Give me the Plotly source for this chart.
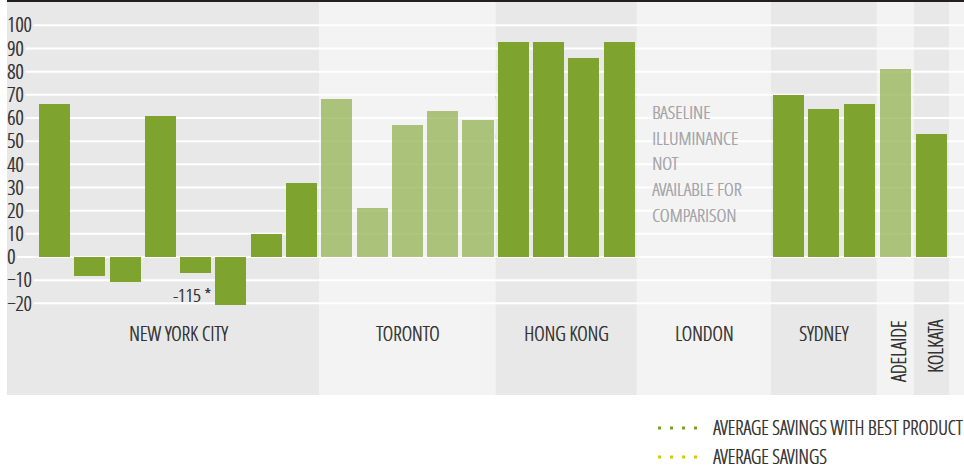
import plotly.graph_objects as go

# ---------------- data ----------------
cities = ["NEW YORK CITY", "TORONTO", "HONG KONG", "LONDON", "SYDNEY", "ADELAIDE", "KOLKATA"]
nyc_savings = [66, -8, -11, 61, -7, -115, 10, 32]
toronto_savings = [68, 21, 57, 63, 59]
hong_kong_savings = [93, 93, 86, 93]
london_savings = []
sydney_savings = [70, 64, 66]
adelaide_savings = [81]
kolkata_savings = [53]
avg_savings_best_product = 69
avg_savings = 52
y_tick_values = list(range(-20, 101, 10))
london_note = ["BASELINE", "ILLUMINANCE", "NOT", "AVAILABLE FOR", "COMPARISON"]
legend_labels = ["AVERAGE SAVINGS WITH BEST PRODUCT", "AVERAGE SAVINGS"]

groups = [nyc_savings, toronto_savings, hong_kong_savings, london_savings,
          sydney_savings, adelaide_savings, kolkata_savings]

# ---------------- layout / style ----------------
W, H = 964, 470
ML, MB = 7, 75
PW, PH = W - ML, H - MB
band_widths = [8, 5, 4, 3.8, 3, 1.05, 1]
shade = ["dark", "light", "dark", None, "dark", "light", "dark"]
DARK = "#7ea32f"
LIGHT_OPACITY = 0.62
BAND_DARK, BAND_LIGHT = "#e8e8e8", "#f3f3f3"
GREEN_DOT, YELLOW_DOT = "#78a22c", "#d8c800"
FONT = "Open Sans Condensed Light, Open Sans, sans-serif"
TXT = "#333333"
NOTE = "#a3a3a8"
SH = "0.45px 0 0 "
CLIP = -20.6
XMIN, XMAX = -1.345, 25.77
YMIN, YMAX = -59.56, 110.92
UNIT_PX = PW / (XMAX - XMIN)


def fnt(size, color=TXT):
    return dict(family=FONT, size=size, color=color, shadow=SH + color)


xs, ys, cols, ops, bands = [], [], [], [], []
edge = -0.5
for g, (vals, w) in enumerate(zip(groups, band_widths)):
    start = edge
    end = edge + w
    bands.append((start, end))
    n = len(vals)
    for i, v in enumerate(vals):
        xs.append(start + (w - n) / 2 + 0.5 + i)
        ys.append(max(v, CLIP))
        cols.append(DARK)
        ops.append(1.0 if shade[g] == "dark" else LIGHT_OPACITY)
    edge = end

shapes = []
for i, (a, b) in enumerate(bands):
    x0 = XMIN if i == 0 else a
    shapes.append(dict(type="rect", xref="x", yref="y", x0=x0, x1=b, y0=YMIN, y1=YMAX,
                       fillcolor=BAND_DARK if i % 2 == 0 else BAND_LIGHT,
                       line=dict(width=0), layer="below"))
shapes.append(dict(type="rect", xref="x", yref="y", x0=bands[-1][1], x1=XMAX, y0=YMIN, y1=YMAX,
                   fillcolor=BAND_LIGHT if len(bands) % 2 == 1 else BAND_DARK,
                   line=dict(width=0), layer="below"))
# gridlines that stop short of their tick label
for t in y_tick_values:
    gap_px = 8.2 * len(str(t)) + 2
    shapes.append(dict(type="line", xref="x", yref="y", x0=XMIN + gap_px / UNIT_PX, x1=XMAX,
                       y0=t, y1=t, line=dict(color="white", width=2), layer="below"))
shapes.append(dict(type="rect", xref="paper", yref="y", x0=0, x1=1, y0=110.06, y1=YMAX,
                   fillcolor="#231f20", line=dict(width=0), layer="above"))
for val, c in [(avg_savings_best_product, GREEN_DOT), (avg_savings, YELLOW_DOT)]:
    shapes.append(dict(type="line", xref="paper", yref="y", x0=0.018, x1=1, y0=val, y1=val,
                       line=dict(color=c, width=3, dash="3px,7.2px"), layer="between"))

fig = go.Figure()
fig.add_trace(go.Bar(x=xs, y=ys, width=0.88, marker=dict(color=cols, opacity=ops, line=dict(width=0)),
                     showlegend=False, hoverinfo="skip"))

ann = []
k = 0
for vals in groups:
    for v in vals:
        if v < CLIP:
            ann.append(dict(x=xs[k] - 0.5, y=-16.4, xref="x", yref="y", text=f"{v} *",
                            showarrow=False, xanchor="right", yanchor="middle", font=fnt(19)))
        k += 1
for name, (a, b), w in zip(cities, bands, band_widths):
    if w < 2:
        ann.append(dict(x=(a + b) / 2, y=-26.3, xref="x", yref="y", text=name, textangle=-90,
                        showarrow=False, xanchor="center", yanchor="top", xshift=4, font=fnt(20)))
    else:
        ann.append(dict(x=(a + b) / 2, y=-32.8, xref="x", yref="y", text=name,
                        showarrow=False, xanchor="center", yanchor="middle", font=fnt(20)))
lx = bands[3][0] + 0.375
for j, line in enumerate(london_note):
    ann.append(dict(x=lx, y=62.6 - j * 11.1, xref="x", yref="y", text=line,
                    showarrow=False, xanchor="left", yanchor="middle", font=fnt(19, NOTE)))


def px_x(p):
    return (p - ML) / PW


def px_y(p):
    return (PH - p) / PH


for lab, c, py in zip(legend_labels, [GREEN_DOT, YELLOW_DOT], [427, 456]):
    shapes.append(dict(type="line", xref="paper", yref="paper", x0=px_x(658), x1=px_x(700),
                       y0=px_y(py + 1), y1=px_y(py + 1), line=dict(color=c, width=3, dash="3px,9px")))
    ann.append(dict(x=px_x(711), y=px_y(py), xref="paper", yref="paper", text=lab,
                    showarrow=False, xanchor="left", yanchor="middle", font=fnt(19.5)))

fig.update_layout(
    width=W, height=H, margin=dict(l=ML, r=0, t=0, b=MB),
    paper_bgcolor="white", plot_bgcolor=BAND_LIGHT,
    shapes=shapes, annotations=ann, bargap=0,
    xaxis=dict(range=[XMIN, XMAX], visible=False, fixedrange=True),
    yaxis=dict(range=[YMIN, YMAX], tickvals=y_tick_values, ticklabelposition="inside",
               ticklabelstandoff=-3, ticks="", showgrid=False,
               zeroline=False, showline=False, tickfont=fnt(20.5), fixedrange=True),
    showlegend=False,
)
fig.write_html("out.html", config={"displayModeBar": False},
               post_script="document.body.style.margin='0';document.body.style.overflow='hidden';")
